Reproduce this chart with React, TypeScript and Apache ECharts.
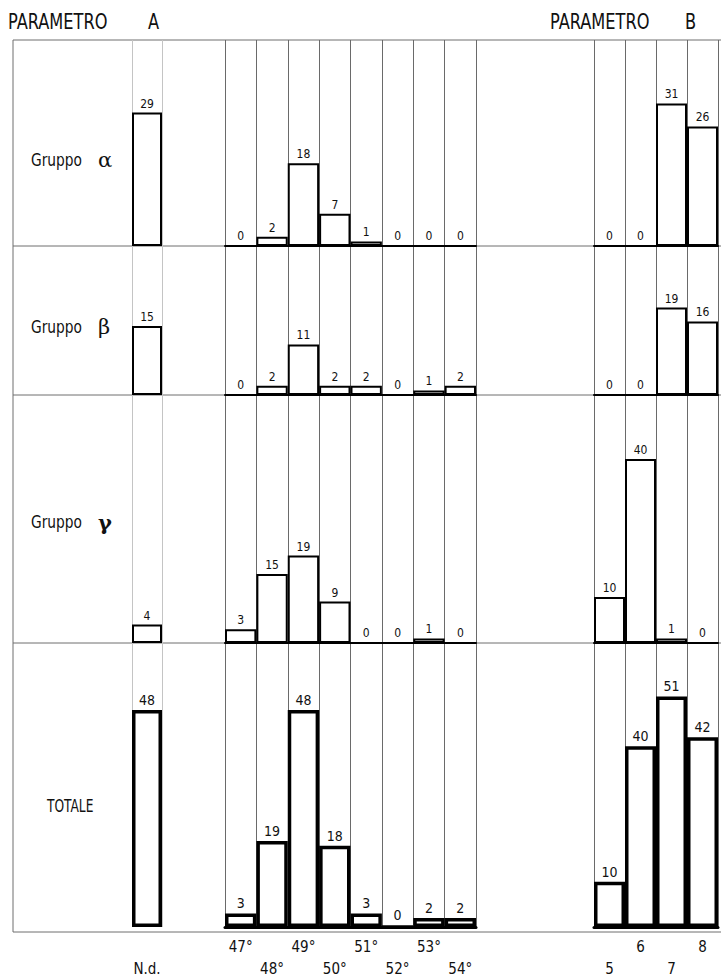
import React, { useEffect, useRef } from 'react';
import * as echarts from 'echarts';

// ---------- data ----------
const rowLabels = ['Gruppo', 'Gruppo', 'Gruppo', 'TOTALE'];
const rowSymbols = ['α', 'β', 'γ', ''];

const ndCategories = ['N.d.'];
const ndValues = [29, 15, 4, 48];

const degreeCategories = ['47°', '48°', '49°', '50°', '51°', '52°', '53°', '54°'];
const degreeAlpha = [0, 2, 18, 7, 1, 0, 0, 0];
const degreeBeta = [0, 2, 11, 2, 2, 0, 1, 2];
const degreeGamma = [3, 15, 19, 9, 0, 0, 1, 0];
const degreeTotal = [3, 19, 48, 18, 3, 0, 2, 2];

const paramBCategories = ['5', '6', '7', '8'];
const paramBAlpha = [0, 0, 31, 26];
const paramBBeta = [0, 0, 19, 16];
const paramBGamma = [10, 40, 1, 0];
const paramBTotal = [10, 40, 51, 42];

const headerLeft = ['PARAMETRO', 'A'];
const headerRight = ['PARAMETRO', 'B'];

// ---------- layout ----------
const FONT = "'Liberation Sans Narrow', 'DejaVu Sans Condensed', 'Roboto Condensed', 'DejaVu Sans', sans-serif";
const FRAME_LEFT = 13;
const FRAME_RIGHT = 721;
const TOP = 40;
const ROW_BOTTOMS = [246, 395, 643, 932];
const PX_PER_UNIT = 4.6;
const COLUMNS = [
  { left: 132, width: 30 },
  { left: 225, width: 251 },
  { left: 594, width: 124 },
];
const LABEL_POS = [
  { x: 31, y: 160 },
  { x: 31, y: 327 },
  { x: 31, y: 522 },
  { x: 47, y: 806 },
];

export default function App() {
  const ref = useRef<HTMLDivElement>(null);

  useEffect(() => {
    if (!ref.current) return;
    const chart = echarts.init(ref.current, null, { renderer: 'svg' });

    const columnCats = [ndCategories, degreeCategories, paramBCategories];
    const rowData = [
      [[ndValues[0]], degreeAlpha, paramBAlpha],
      [[ndValues[1]], degreeBeta, paramBBeta],
      [[ndValues[2]], degreeGamma, paramBGamma],
      [[ndValues[3]], degreeTotal, paramBTotal],
    ];

    const grid: any[] = [];
    const xAxis: any[] = [];
    const yAxis: any[] = [];
    const series: any[] = [];

    rowData.forEach((row, r) => {
      const top = r === 0 ? TOP : ROW_BOTTOMS[r - 1];
      const height = ROW_BOTTOMS[r] - top;
      const isTotal = r === 3;
      row.forEach((values, c) => {
        const idx = grid.length;
        grid.push({ left: COLUMNS[c].left, width: COLUMNS[c].width, top, height, containLabel: false });
        xAxis.push({
          gridIndex: idx,
          type: 'category',
          data: columnCats[c],
          boundaryGap: true,
          axisLine: { show: c > 0, lineStyle: { color: '#000', width: isTotal ? 3 : 2 } },
          axisTick: { show: false },
          axisLabel: {
            show: isTotal,
            interval: 0,
            margin: 9,
            color: '#111',
            fontSize: 15,
            lineHeight: 22,
            fontFamily: FONT,
            formatter: (v: string, i: number) => {
              if (c === 0) return '\n' + v;
              if (c === 1) return i % 2 === 0 ? v : '\n' + v;
              return i % 2 === 0 ? '\n' + v : v;
            },
          },
          splitLine: {
            show: true,
            showMinLine: true,
            showMaxLine: true,
            lineStyle: { color: c === 0 ? '#c4c4c4' : '#6a6a6a', width: 1 },
          },
        });
        yAxis.push({
          gridIndex: idx,
          type: 'value',
          min: 0,
          max: height / PX_PER_UNIT,
          show: false,
          splitLine: { show: false },
        });
        series.push({
          type: 'bar',
          xAxisIndex: idx,
          yAxisIndex: idx,
          data: values,
          barCategoryGap: '0%',
          itemStyle: { color: '#fff', borderColor: '#000', borderWidth: isTotal ? 3.5 : 2 },
          label: {
            show: true,
            position: 'top',
            distance: 3,
            color: '#111',
            fontSize: isTotal ? 14 : 12,
            fontFamily: FONT,
          },
        });
      });
    });

    const frameColor = '#6e6e6e';
    const headerText = (text: string, x: number) => ({
      type: 'text',
      x,
      y: 21,
      scaleX: 0.82,
      style: { text, font: `22px ${FONT}`, fill: '#111', verticalAlign: 'middle', textVerticalAlign: 'middle' },
    });
    const graphic: any[] = [
      { type: 'line', shape: { x1: FRAME_LEFT, y1: TOP, x2: FRAME_LEFT, y2: ROW_BOTTOMS[3] }, style: { stroke: frameColor, lineWidth: 1 }, z: 0 },
      { type: 'line', shape: { x1: FRAME_LEFT, y1: TOP, x2: FRAME_RIGHT, y2: TOP }, style: { stroke: frameColor, lineWidth: 1 }, z: 0 },
      ...ROW_BOTTOMS.map((y) => ({
        type: 'line',
        shape: { x1: FRAME_LEFT, y1: y, x2: FRAME_RIGHT, y2: y },
        style: { stroke: frameColor, lineWidth: 1 },
        z: 0,
      })),
      headerText(headerLeft[0], 8),
      headerText(headerLeft[1], 148),
      headerText(headerRight[0], 550),
      headerText(headerRight[1], 685),
      ...rowLabels.map((t, i) => ({
        type: 'text',
        x: LABEL_POS[i].x,
        y: LABEL_POS[i].y,
        scaleX: i === 3 ? 0.8 : 0.9,
        style: { text: t, font: `17px ${FONT}`, fill: '#111', verticalAlign: 'middle', textVerticalAlign: 'middle' },
      })),
      ...rowSymbols
        .map((s, i) => ({ s, i }))
        .filter((o) => o.s)
        .map(({ s, i }) => ({
          type: 'text',
          x: 98,
          y: LABEL_POS[i].y,
          style: {
            text: s,
            font: `${i === 2 ? 'bold ' : ''}21px 'DejaVu Serif', serif`,
            fill: '#111',
            verticalAlign: 'middle',
            textVerticalAlign: 'middle',
          },
        })),
    ];

    chart.setOption({
      animation: false,
      backgroundColor: '#fff',
      grid,
      xAxis,
      yAxis,
      series,
      graphic,
    });

    return () => chart.dispose();
  }, []);

  return <div ref={ref} style={{ position: 'fixed', left: 0, top: 0, width: 721, height: 980 }} />;
}
